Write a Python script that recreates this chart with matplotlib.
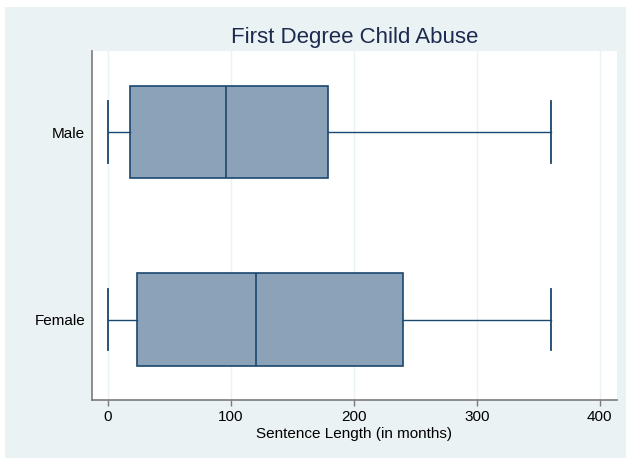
import matplotlib.pyplot as plt
from matplotlib.patches import Rectangle

# box summaries (months)
groups = ["Female", "Male"]
q1 = [24, 18]
medians = [120, 96]
q3 = [240, 179]
whisk_lo = [0, 0]
whisk_hi = [360, 360]

xticks = [0, 100, 200, 300, 400]

fill_color = "#8CA2B8"
edge_color = "#1A476F"
bg_color = "#EAF2F3"

plt.rcParams['font.family'] = ['Liberation Sans', 'DejaVu Sans']

fig = plt.figure(figsize=(6.31, 4.59), dpi=100)
fig.patch.set_facecolor("white")
W, H = 631, 459
fig.patches.append(Rectangle((5 / W, 1 - 458 / H), 621 / W, 451 / H,
                             transform=fig.transFigure, facecolor=bg_color,
                             edgecolor="none", zorder=-10))

ax = fig.add_axes([92 / W, 1 - 400 / H, 525 / W, 349 / H])
ax.set_facecolor("white")

stats = []
for i, g in enumerate(groups):
    stats.append(dict(label=g, q1=q1[i], med=medians[i], q3=q3[i],
                      whislo=whisk_lo[i], whishi=whisk_hi[i], fliers=[]))

ax.bxp(stats, positions=range(len(groups)), orientation="horizontal",
       widths=0.494, capwidths=0.33, patch_artist=True, showfliers=False,
       boxprops=dict(facecolor=fill_color, edgecolor=edge_color, linewidth=1.2),
       medianprops=dict(color=edge_color, linewidth=1.2),
       whiskerprops=dict(color=edge_color, linewidth=1.0),
       capprops=dict(color=edge_color, linewidth=1.3))

ax.set_xlim(-13, 414)
ax.set_ylim(-0.429, 1.432)
ax.set_xticks(xticks)
ax.set_xticklabels([str(t) for t in xticks])
ax.set_yticks(range(len(groups)))
ax.set_yticklabels(groups)

ax.xaxis.grid(True, color=bg_color, linewidth=1.0)
ax.set_axisbelow(True)
for s in ["top", "right"]:
    ax.spines[s].set_visible(False)
for s in ["left", "bottom"]:
    ax.spines[s].set_color("#7a7a7a")
    ax.spines[s].set_linewidth(1.2)

ax.tick_params(axis="x", length=4.3, color="#7a7a7a", width=1.0,
               labelsize=11, pad=3)
ax.tick_params(axis="y", length=0, labelsize=11, pad=5)

ax.set_xlabel("Sentence Length (in months)", fontsize=11, labelpad=2)
ax.set_title("First Degree Child Abuse", fontsize=16, color="#1C2A4F", pad=6)

fig.savefig("out.png", dpi=100, facecolor=fig.get_facecolor())
